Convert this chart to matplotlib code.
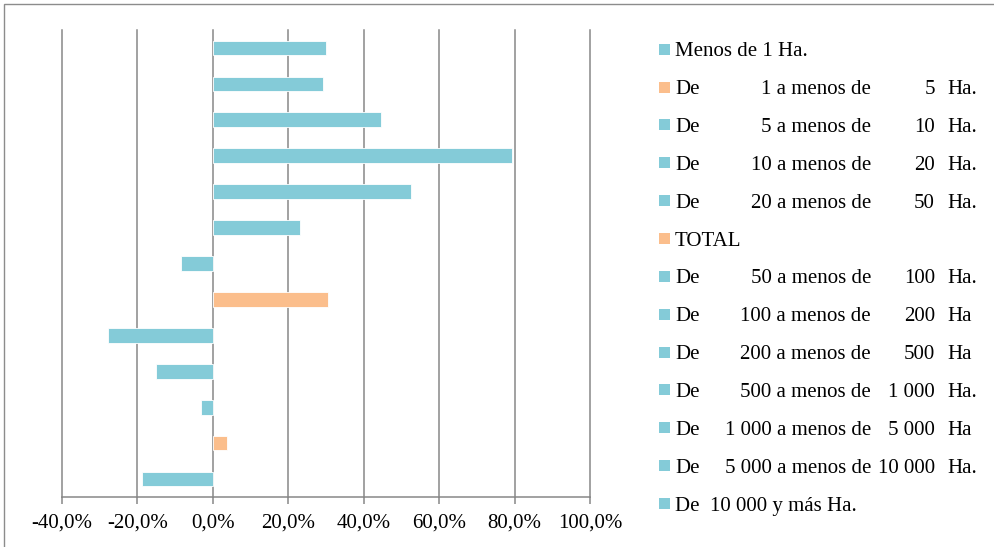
import numpy as np
import matplotlib
matplotlib.use('Agg')
import matplotlib.pyplot as plt
from matplotlib.patches import Rectangle
from matplotlib.ticker import FuncFormatter

# bar values (%), top to bottom as they appear in the chart
bar_values = [30.0, 29.1, 44.5, 79.2, 52.5, 23.0, -8.5, 30.6, -27.7, -15.0, -3.1, 3.8, -18.9]
bar_is_total = [False, False, False, False, False, False, False, True, False, False, False, True, False]

legend_labels = [
    "Menos de 1 Ha.",
    "De 1 a menos de 5 Ha.",
    "De 5 a menos de 10 Ha.",
    "De 10 a menos de 20 Ha.",
    "De 20 a menos de 50 Ha.",
    "TOTAL",
    "De 50 a menos de 100 Ha.",
    "De 100 a menos de 200 Ha",
    "De 200 a menos de 500 Ha",
    "De 500 a menos de 1 000 Ha.",
    "De 1 000 a menos de 5 000 Ha",
    "De 5 000 a menos de 10 000 Ha.",
    "De  10 000 y más Ha.",
]
legend_is_orange = [False, True, False, False, False, True, False, False, False, False, False, False, False]

x_ticks = [-40, -20, 0, 20, 40, 60, 80, 100]

BLUE = '#84CBD8'
ORANGE = '#FBBE8C'
GRID = '#878787'

W, H = 994, 547
plt.rcParams['font.family'] = ['Liberation Serif', 'DejaVu Serif']

fig = plt.figure(figsize=(W / 100, H / 100), dpi=100)

# axes placement in pixels
left, right, top, bottom = 62, 590, 30, 497
ax = fig.add_axes([left / W, 1 - bottom / H, (right - left) / W, (bottom - top) / H])

pos = np.arange(len(bar_values))
colors = [ORANGE if t else BLUE for t in bar_is_total]
ax.barh(pos, bar_values, height=0.41, color=colors, edgecolor='white', linewidth=0.6, zorder=3)

ax.set_ylim(len(bar_values) - 0.5, -0.5)
ax.set_xlim(x_ticks[0], x_ticks[-1])
ax.set_xticks(x_ticks)
ax.xaxis.set_major_formatter(FuncFormatter(lambda v, p: ('%.1f%%' % (round(v, 1) + 0.0)).replace('.', ',')))
ax.set_yticks([])

for v in x_ticks:
    ax.axvline(v, color=GRID, linewidth=1.1, zorder=1, clip_on=False)

for s in ['top', 'right', 'left']:
    ax.spines[s].set_visible(False)
ax.spines['bottom'].set_color(GRID)
ax.spines['bottom'].set_linewidth(1.1)
ax.tick_params(axis='x', colors=GRID, length=5, width=1.1, pad=7, labelsize=15, labelcolor='black')

# legend drawn by hand to keep the column alignment of the original
row0, row_step = 49.2, 37.86
for i, (lab, orange) in enumerate(zip(legend_labels, legend_is_orange)):
    y = row0 + i * row_step
    fig.patches.append(Rectangle((659 / W, 1 - (y + 5.5) / H), 11 / W, 11 / H,
                                 transform=fig.transFigure, facecolor=ORANGE if orange else BLUE,
                                 edgecolor='none'))
    yy = 1 - (y + 7) / H
    if lab.startswith('De ') and ' a menos de ' in lab:
        rest = lab[3:]
        a, b = rest.split(' a menos de ')
        num, unit = b.rsplit(' ', 1)
        fig.text(675 / W, yy, 'De', fontsize=15, va='baseline', ha='left')
        fig.text(871 / W, yy, a + ' a menos de', fontsize=15, va='baseline', ha='right')
        fig.text(935 / W, yy, num, fontsize=15, va='baseline', ha='right')
        fig.text(947 / W, yy, unit, fontsize=15, va='baseline', ha='left')
    else:
        fig.text(675 / W, yy, lab, fontsize=15, va='baseline', ha='left')

# chart border (only top/left visible in the image)
fig.patches.append(Rectangle((4 / W, -0.05), 1.1, 1 - 4 / H + 0.05, transform=fig.transFigure,
                             facecolor='none', edgecolor='#8c8c8c', linewidth=1.0))

fig.savefig('out.png', dpi=100)
